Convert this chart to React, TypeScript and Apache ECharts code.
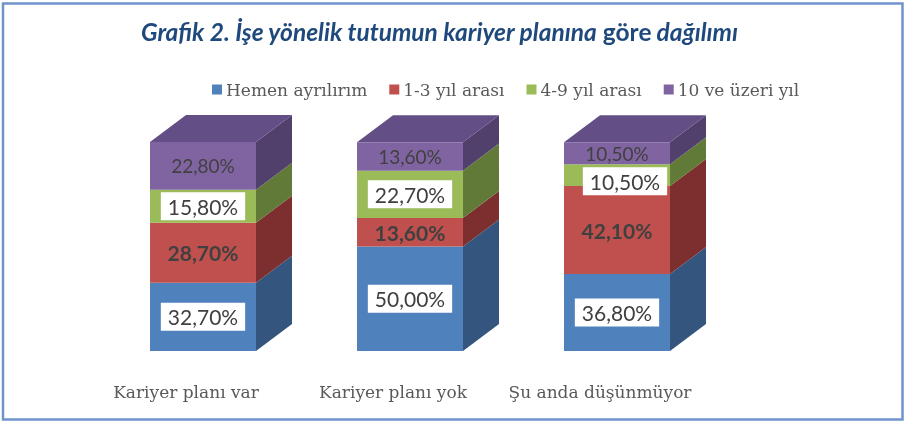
import React, { useEffect, useRef } from "react";
import * as echarts from "echarts";

const categories = ["Kariyer planı var", "Kariyer planı yok", "Şu anda düşünmüyor"];
const seriesNames = ["Hemen ayrılırım", "1-3 yıl arası", "4-9 yıl arası", "10 ve üzeri yıl"];
const hemen = [32.7, 50.0, 36.8];
const yil13 = [28.7, 13.6, 42.1];
const yil49 = [15.8, 22.7, 10.5];
const yil10 = [22.8, 13.6, 10.5];
const allValues = [hemen, yil13, yil49, yil10];

const frontColors = ["#4F81BD", "#C0504D", "#9BBB59", "#8064A2"];
const sideColors = ["#34567E", "#7C2F2E", "#627A37", "#51406C"];
const topColor = "#634F85";

const labelStyles = [
  { bg: "#FFFFFF", weight: "normal", size: 21 },
  { bg: "transparent", weight: "bold", size: 21 },
  { bg: "#FFFFFF", weight: "normal", size: 21 },
  { bg: "transparent", weight: "normal", size: 19 },
];
// label nudge for the crowded green label in the 3rd bar
const labelNudge: Record<string, number[]> = { "2-2": [8, 6] };

function fmt(v: number) {
  return v.toFixed(2).replace(".", ",") + "%";
}

export default function App() {
  const ref = useRef<HTMLDivElement>(null);
  useEffect(() => {
    if (!ref.current) return;
    const chart = echarts.init(ref.current, null, { renderer: "svg" });
    const bases = [0, 0, 0];
    const series = allValues.map((vals, s) => {
      const data = vals.map((v, i) => {
        const lo = bases[i];
        const hi = lo + v;
        bases[i] = hi;
        return [i, lo, hi, v];
      });
      const isTop = s === allValues.length - 1;
      const ls = labelStyles[s];
      return {
        type: "custom",
        name: seriesNames[s],
        itemStyle: { color: frontColors[s] },
        encode: { x: 0, y: [1, 2] },
        data,
        renderItem: (params: any, api: any) => {
          const cat = api.value(0);
          const lo = api.value(1);
          const hi = api.value(2);
          const v = api.value(3);
          const p0 = api.coord([cat, lo]);
          const p1 = api.coord([cat, hi]);
          const band = api.size([1, 0])[0];
          const w = band * 0.512;
          const dx = w * 0.34;
          const dy = w * 0.255;
          const x0 = p0[0] - w / 2;
          const x1 = x0 + w;
          const yb = p0[1];
          const yt = p1[1];
          const nudge = labelNudge[s + "-" + params.dataIndex] || [0, 0];
          const children: any[] = [
            {
              type: "polygon",
              shape: { points: [[x1, yb], [x1 + dx, yb - dy], [x1 + dx, yt - dy], [x1, yt]] },
              style: { fill: sideColors[s] },
            },
          ];
          if (isTop) {
            children.push({
              type: "polygon",
              shape: { points: [[x0, yt], [x0 + dx, yt - dy], [x1 + dx, yt - dy], [x1, yt]] },
              style: { fill: topColor },
            });
          }
          children.push({
            type: "rect",
            shape: { x: x0, y: yt, width: w, height: yb - yt },
            style: { fill: frontColors[s] },
            textContent: {
              style: {
                text: fmt(v),
                fill: "#404040",
                fontFamily: "Lato",
                fontSize: ls.size,
                fontWeight: ls.weight,
                backgroundColor: ls.bg,
                padding: ls.bg === "transparent" ? 0 : [4, 7, 3, 7],
              },
            },
            textConfig: { position: "inside", offset: nudge },
          });
          return { type: "group", children };
        },
      };
    });

    chart.setOption({
      animation: false,
      color: frontColors,
      title: {
        left: 136,
        top: 14,
        text: "{a|Grafik 2. İşe yönelik tutumun kariyer planına} {b|göre} {a|dağılımı}",
        textStyle: {
          rich: {
            a: { fontFamily: "Lato", fontStyle: "italic", fontWeight: "bold", fontSize: 24.5, color: "#1F497D" },
            b: { fontFamily: "Lato", fontStyle: "normal", fontWeight: "bold", fontSize: 24.5, color: "#1F497D" },
          },
        },
      },
      legend: {
        data: seriesNames,
        left: 207,
        top: 76,
        icon: "rect",
        itemWidth: 10,
        itemHeight: 10,
        itemGap: 22,
        textStyle: { fontFamily: "DejaVu Serif", fontSize: 17, color: "#595959", padding: [0, 0, 0, -1] },
      },
      grid: { left: 99.5, right: 184.5, top: 142, bottom: 71 },
      xAxis: {
        type: "category",
        data: categories,
        axisLine: { show: false },
        axisTick: { show: false },
        axisLabel: {
          interval: 0,
          hideOverlap: false,
          fontFamily: "DejaVu Serif",
          fontSize: 17,
          color: "#595959",
          margin: 32,
          padding: [0, 34, 0, 0],
        },
      },
      yAxis: { type: "value", min: 0, max: 100, show: false },
      graphic: [
        {
          type: "rect",
          shape: { x: 3, y: 3.5, width: 899.5, height: 416 },
          style: { fill: "none", stroke: "#6F93CB", lineWidth: 2.5 },
          silent: true,
        },
      ],
      series,
    });
    return () => chart.dispose();
  }, []);
  return <div ref={ref} style={{ position: "fixed", left: 0, top: 0, width: 905, height: 422 }} />;
}
